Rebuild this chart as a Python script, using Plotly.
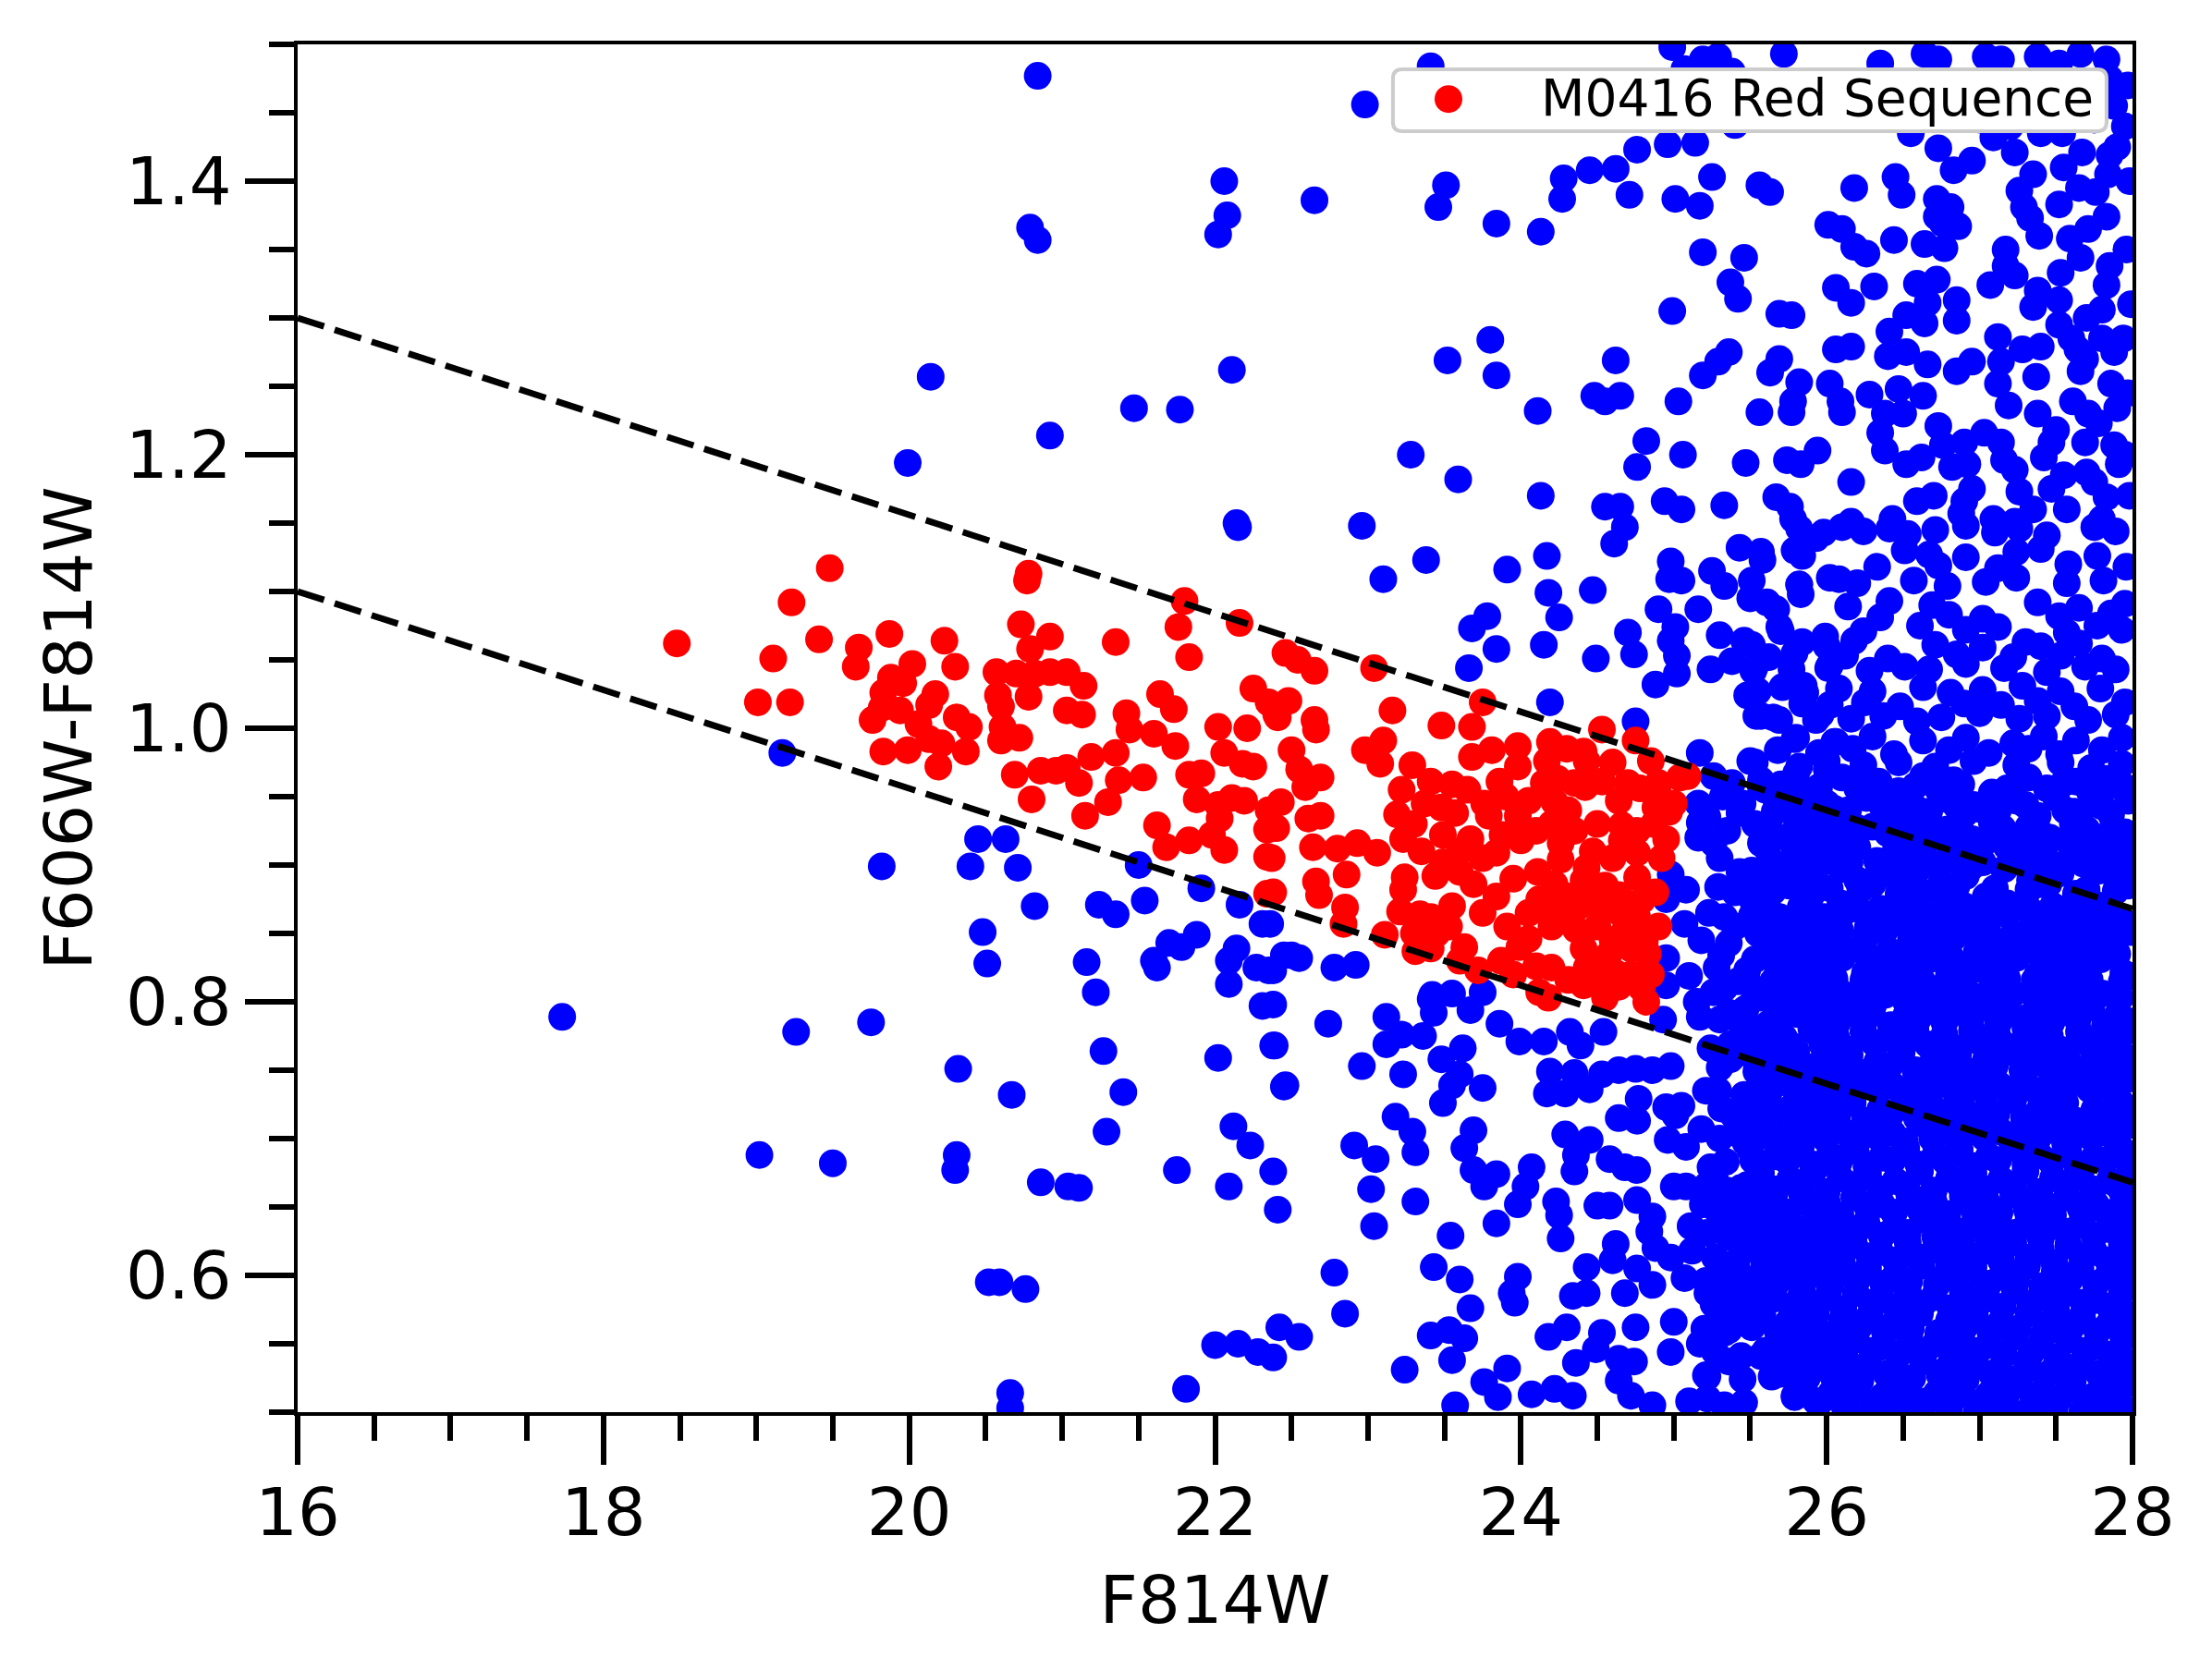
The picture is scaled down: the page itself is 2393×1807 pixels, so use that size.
import plotly.graph_objects as go

FONT = "DejaVu Sans"

# F814W magnitude vs F606W-F814W colour
red_seq = [
    (18.48, 1.062), (19.48, 1.117), (19.23, 1.092), (19.41, 1.065), (19.11, 1.051), (19.67, 1.059), (19.65, 1.045),
    (19.87, 1.069), (20.23, 1.064), (20.02, 1.047), (19.88, 1.037), (19.96, 1.033), (19.83, 1.026), (20.17, 1.025),
    (19.01, 1.019), (19.22, 1.019), (19.82, 1.015), (19.94, 1.013), (19.76, 1.006), (20.06, 1.003), (20.13, 1.017),
    (20.31, 1.008), (20.39, 1.001), (19.83, 0.983), (19.99, 0.984), (20.13, 0.992), (20.21, 0.989), (20.19, 0.972),
    (20.37, 0.983), (20.30, 1.045), (20.78, 1.113), (20.77, 1.108), (20.73, 1.076), (20.92, 1.067), (20.79, 1.058),
    (20.57, 1.041), (20.70, 1.040), (20.82, 1.040), (20.92, 1.041), (21.03, 1.041), (21.14, 1.031), (20.58, 1.024),
    (20.78, 1.023), (20.60, 1.016), (20.61, 1.001), (20.72, 0.993), (20.60, 0.991), (21.03, 1.013), (21.13, 1.010),
    (21.35, 1.063), (21.76, 1.074), (21.80, 1.093), (21.83, 1.052), (22.16, 1.077), (21.64, 1.025), (21.73, 1.014),
    (21.42, 1.011), (21.44, 0.999), (21.60, 0.996), (21.74, 0.987), (21.19, 0.979), (21.35, 0.982), (20.69, 0.966),
    (20.86, 0.969), (20.96, 0.969), (21.03, 0.971), (21.11, 0.960), (20.80, 0.948), (21.37, 0.962), (21.30, 0.946),
    (21.15, 0.936), (21.53, 0.964), (21.83, 0.966), (21.91, 0.967), (21.88, 0.948), (22.02, 0.944), (22.11, 0.949),
    (22.19, 0.947), (22.02, 1.001), (22.21, 1.000), (22.25, 1.029), (22.35, 1.019), (22.41, 1.008), (22.06, 0.982),
    (22.25, 0.972), (22.18, 0.974), (22.35, 0.940), (22.34, 0.926), (22.34, 0.906), (22.34, 0.879), (21.62, 0.929),
    (21.68, 0.913), (21.83, 0.918), (21.98, 0.922), (22.06, 0.911), (22.03, 0.934),
    (22.46, 1.055), (22.54, 1.050), (22.65, 1.042), (23.04, 1.044), (22.48, 1.020), (22.40, 1.010), (22.65, 1.006),
    (22.66, 0.999), (23.16, 1.013), (23.75, 1.019), (23.48, 1.002), (23.68, 1.001), (22.50, 0.984), (22.55, 0.970),
    (22.69, 0.964), (22.59, 0.957), (22.43, 0.946), (22.98, 0.984), (23.10, 0.991), (23.08, 0.974), (23.29, 0.973),
    (22.69, 0.936), (22.61, 0.934), (22.40, 0.927), (22.64, 0.913), (22.80, 0.912), (22.93, 0.916), (23.06, 0.909),
    (22.37, 0.905), (22.86, 0.893), (22.66, 0.888), (22.68, 0.878), (22.85, 0.869), (22.84, 0.857), (22.38, 0.880),
    (23.22, 0.955), (23.19, 0.937), (23.23, 0.919), (23.24, 0.891), (23.23, 0.882), (23.21, 0.866), (23.11, 0.849),
    (23.34, 0.864), (23.41, 0.862), (23.53, 0.855), (23.31, 0.837), (23.41, 0.839), (23.63, 0.840), (23.41, 0.961),
    (23.55, 0.959), (23.48, 0.942), (23.57, 0.938), (23.49, 0.922), (23.67, 0.919), (23.49, 0.902), (23.44, 0.892),
    (23.60, 0.895), (23.69, 0.886), (23.84, 0.877), (23.72, 0.823), (23.87, 0.830), (23.91, 0.855), (24.05, 0.846),
    (24.10, 0.826), (24.12, 0.807), (23.68, 0.979), (23.81, 0.984), (23.98, 0.987), (23.98, 0.972), (23.86, 0.961),
    (23.76, 0.945), (23.79, 0.936), (24.05, 0.947), (23.98, 0.936), (24.10, 0.925), (23.88, 0.922), (23.84, 0.909),
    (24.00, 0.918), (24.19, 0.990), (24.17, 0.976), (24.30, 0.985), (24.41, 0.983), (24.53, 0.999), (24.43, 0.976),
    (24.24, 0.963), (24.42, 0.957), (24.53, 0.961), (24.22, 0.946), (24.31, 0.940), (24.26, 0.916), (24.26, 0.904),
    (24.11, 0.895), (24.12, 0.875), (24.17, 0.868), (24.43, 0.898), (24.41, 0.889), (24.22, 0.886), (24.31, 0.877),
    (24.45, 0.873), (24.53, 0.866), (24.26, 0.859), (24.36, 0.853), (24.50, 0.855), (24.41, 0.839), (24.57, 0.834),
    (24.43, 0.825), (24.31, 0.816), (24.41, 0.812), (24.62, 0.821), (24.64, 0.811), (24.79, 0.810), (24.75, 0.991),
    (24.85, 0.976), (25.04, 0.964), (24.91, 0.949), (24.78, 0.956), (24.64, 0.947), (24.88, 0.942), (24.66, 0.929),
    (24.66, 0.918), (24.76, 0.925), (24.95, 0.919), (24.76, 0.909), (24.76, 0.891), (24.64, 0.878), (24.79, 0.874),
    (24.76, 0.862), (24.81, 0.844), (24.83, 0.835), (24.72, 0.839), (24.67, 0.850), (25.09, 0.965), (24.97, 0.939),
    (24.18, 0.803), (24.82, 0.800), (24.55, 0.803),
    (24.20, 0.930), (24.35, 0.925), (24.50, 0.930), (24.60, 0.905), (24.47, 0.910), (24.55, 0.885), (24.65, 0.865),
    (24.38, 0.870), (24.20, 0.855), (24.05, 0.865), (23.95, 0.890), (23.75, 0.905), (23.60, 0.910), (23.35, 0.910),
    (23.30, 0.930), (23.37, 0.945), (23.65, 0.955), (23.90, 0.950), (24.15, 0.960), (24.35, 0.960), (24.60, 0.975),
    (24.70, 0.960), (24.90, 0.960), (24.87, 0.930), (24.92, 0.905), (24.88, 0.880), (24.90, 0.855), (24.85, 0.820),
    (24.50, 0.820), (24.20, 0.825), (23.95, 0.820), (23.60, 0.830), (23.45, 0.850), (23.30, 0.850), (23.55, 0.870),
    (23.75, 0.865), (23.99, 0.840), (24.60, 0.845), (24.72, 0.820), (25.00, 0.945),
]

# sparse field galaxies (bright end and the region below / above the red sequence)
blue_field = [
    (17.73, 0.789), (19.17, 0.982), (19.82, 0.899), (19.99, 1.194), (19.26, 0.778), (19.75, 0.785), (20.32, 0.751),
    (20.67, 0.732), (19.02, 0.688), (19.50, 0.682), (20.31, 0.688), (20.30, 0.677), (20.86, 0.668), (21.04, 0.665),
    (21.11, 0.664), (20.52, 0.595), (20.59, 0.595), (20.76, 0.590), (20.66, 0.514), (20.66, 0.503),
    (22.15, 1.147), (20.45, 0.919), (20.63, 0.919), (20.40, 0.899), (20.71, 0.898), (20.82, 0.870), (20.48, 0.851),
    (20.51, 0.828), (21.16, 0.829), (21.22, 0.807), (21.24, 0.871), (21.35, 0.864), (21.50, 0.900), (21.54, 0.874),
    (21.91, 0.883), (22.16, 0.871), (22.31, 0.857), (21.70, 0.843), (21.78, 0.840), (21.88, 0.849), (21.60, 0.830),
    (21.62, 0.825), (22.14, 0.839), (22.09, 0.830), (22.27, 0.825), (22.35, 0.823), (22.09, 0.813), (22.45, 0.834),
    (21.27, 0.764), (21.40, 0.734), (21.29, 0.705), (22.02, 0.759), (22.39, 0.768), (22.45, 0.738), (22.31, 0.797),
    (21.75, 0.677), (22.12, 0.709), (22.23, 0.695), (22.09, 0.665), (22.38, 0.676), (22.41, 0.648), (22.00, 0.549),
    (22.15, 0.550), (22.28, 0.544), (22.38, 0.540), (22.42, 0.562), (21.81, 0.517),
    (20.84, 1.477), (22.98, 1.456), (23.41, 1.484), (22.06, 1.400), (22.65, 1.386), (22.08, 1.375), (22.02, 1.361),
    (20.79, 1.366), (20.84, 1.357), (23.51, 1.397), (23.46, 1.381), (23.84, 1.369), (24.13, 1.363), (24.28, 1.402),
    (24.27, 1.387), (20.14, 1.257), (22.11, 1.262), (21.47, 1.234), (21.77, 1.233), (20.92, 1.214), (23.80, 1.284),
    (23.52, 1.269), (23.84, 1.258), (24.11, 1.232), (23.28, 1.200), (23.59, 1.182), (24.13, 1.170), (22.14, 1.150),
    (22.96, 1.148),
    (23.38, 1.123), (23.10, 1.109), (23.91, 1.116), (24.17, 1.126), (24.18, 1.099), (24.25, 1.081), (24.15, 1.061),
    (24.47, 1.101), (24.49, 1.051), (23.78, 1.082), (23.68, 1.073), (23.84, 1.058), (23.66, 1.044), (24.19, 1.019),
    (24.75, 1.005), (24.61, 1.135), (24.68, 1.147), (24.98, 1.122), (24.97, 1.109), (25.05, 1.108), (24.90, 1.087),
    (24.70, 1.070), (24.74, 1.054), (25.01, 1.074), (25.16, 1.087), (24.98, 1.064), (25.02, 1.053), (25.02, 1.040),
    (24.88, 1.032), (25.25, 1.115), (25.33, 1.104), (25.43, 1.132), (25.58, 1.123), (25.50, 1.095), (25.67, 1.087),
    (25.70, 1.071), (25.30, 1.068), (25.46, 1.064), (25.24, 1.043), (25.38, 1.049), (25.52, 1.042), (25.48, 1.024),
    (25.54, 1.009), (25.65, 1.008), (25.77, 1.033), (25.85, 1.031), (25.79, 1.130), (25.82, 1.105), (25.83, 1.098),
    (25.79, 1.055), (25.99, 1.067), (26.01, 1.044), (26.02, 1.110), (25.93, 1.139), (25.79, 0.992), (25.93, 1.006),
    (26.05, 0.990), (25.17, 0.982), (25.26, 0.965), (25.50, 0.976), (25.57, 0.957), (25.80, 0.967), (26.00, 0.970),
    (25.43, 0.938), (25.67, 0.940), (25.86, 0.947), (25.93, 0.936), (25.16, 0.945), (25.17, 0.931), (25.16, 0.920),
    (25.26, 0.916), (25.57, 0.916), (25.79, 0.911), (25.93, 0.907), (26.06, 0.922), (24.98, 0.893), (25.08, 0.882),
    (25.29, 0.884), (25.43, 0.895), (25.62, 0.893), (25.71, 0.900), (24.95, 0.875), (25.07, 0.857), (25.33, 0.862),
    (25.52, 0.873), (25.69, 0.862), (25.88, 0.875), (25.98, 0.862), (25.86, 0.850), (24.95, 0.832), (24.95, 0.812),
    (25.10, 0.819), (25.31, 0.834), (25.48, 0.823), (25.64, 0.837), (25.76, 0.823), (25.88, 0.834), (26.00, 0.843),
    (26.05, 0.816), (25.26, 0.807), (25.52, 0.810), (25.69, 0.807), (25.88, 0.812), (25.36, 0.843), (25.55, 0.850),
    (22.50, 0.834), (22.55, 0.832), (22.78, 0.825), (22.92, 0.827), (22.38, 0.823), (22.36, 0.857), (23.42, 0.805),
    (23.55, 0.806), (23.75, 0.807),
    (25.22, 0.935), (25.35, 0.925), (25.30, 0.905), (25.40, 0.880), (25.23, 0.865), (25.40, 0.855), (25.18, 0.845),
    (25.28, 0.825), (25.42, 0.815), (25.15, 0.800), (25.36, 0.792), (25.32, 0.950), (25.45, 0.945), (25.38, 0.960),
]

# faint galaxies below the red sequence (F606W-F814W < 0.8)
blue_faint = [
    (22.38, 0.798), (22.74, 0.784), (22.38, 0.768), (22.46, 0.739), (22.96, 0.753), (23.12, 0.789), (23.41, 0.802),
    (23.43, 0.792), (23.67, 0.794), (23.86, 0.784), (23.22, 0.776), (23.36, 0.775), (23.12, 0.769), (23.99, 0.771),
    (24.15, 0.771), (24.32, 0.778), (24.39, 0.768), (24.54, 0.778), (24.93, 0.787), (25.17, 0.789), (25.24, 0.766),
    (25.37, 0.758), (25.62, 0.745), (25.93, 0.753), (25.33, 0.810), (25.57, 0.803), (25.45, 0.778), (25.69, 0.789),
    (25.93, 0.778), (26.05, 0.796), (23.48, 0.758), (23.62, 0.766), (23.60, 0.747), (23.55, 0.739), (23.49, 0.726),
    (23.23, 0.747), (23.75, 0.737), (24.19, 0.749), (24.35, 0.748), (24.17, 0.733), (24.29, 0.733), (24.45, 0.736),
    (24.53, 0.747), (24.64, 0.750), (24.75, 0.751), (24.86, 0.750), (24.98, 0.753), (24.64, 0.715), (24.76, 0.713),
    (24.77, 0.729), (24.95, 0.723), (25.05, 0.724), (25.21, 0.735), (25.31, 0.722), (25.01, 0.717), (24.96, 0.699),
    (25.08, 0.694), (25.18, 0.707), (25.43, 0.703), (25.57, 0.723), (25.76, 0.722), (25.86, 0.717), (26.02, 0.704),
    (25.71, 0.699), (25.52, 0.684), (25.74, 0.684), (25.93, 0.679), (25.44, 0.664), (25.66, 0.660), (25.82, 0.665),
    (25.24, 0.679), (25.27, 0.670), (23.18, 0.716), (23.29, 0.705), (23.31, 0.690), (22.91, 0.695), (23.05, 0.685),
    (23.69, 0.706), (23.63, 0.693), (23.69, 0.677), (23.84, 0.674), (23.76, 0.665), (24.07, 0.679), (24.03, 0.665),
    (23.98, 0.652), (24.29, 0.703), (24.45, 0.699), (24.36, 0.688), (24.35, 0.676), (24.58, 0.685), (24.68, 0.679),
    (24.76, 0.677), (23.02, 0.663), (23.31, 0.654), (23.04, 0.636), (23.54, 0.629), (23.84, 0.638), (24.23, 0.654),
    (24.25, 0.644), (24.26, 0.627), (24.50, 0.651), (24.58, 0.651), (24.76, 0.655), (24.86, 0.643), (24.84, 0.632),
    (25.00, 0.665), (25.08, 0.665), (25.19, 0.652), (25.11, 0.636), (25.30, 0.636), (25.52, 0.645), (25.71, 0.643),
    (25.90, 0.636), (24.62, 0.623), (24.60, 0.611), (24.43, 0.606), (24.88, 0.620), (24.98, 0.613), (25.12, 0.618),
    (24.76, 0.605), (24.86, 0.593), (24.68, 0.587), (25.07, 0.598), (25.22, 0.587), (25.33, 0.607), (25.54, 0.621),
    (25.71, 0.607), (25.79, 0.625), (25.45, 0.589), (25.64, 0.587), (25.83, 0.584), (26.00, 0.598), (23.43, 0.606),
    (23.60, 0.597), (23.67, 0.576), (23.98, 0.599), (23.94, 0.587), (23.96, 0.580), (24.43, 0.587), (24.34, 0.585),
    (24.75, 0.562), (25.00, 0.566), (24.98, 0.544), (25.17, 0.550), (25.36, 0.560), (25.52, 0.564), (25.76, 0.562),
    (25.98, 0.555), (25.57, 0.541), (25.36, 0.537), (25.74, 0.537), (26.00, 0.537), (22.78, 0.602), (22.85, 0.572),
    (22.55, 0.555), (23.41, 0.556), (23.53, 0.560), (23.63, 0.554), (23.55, 0.538), (23.24, 0.531), (24.18, 0.555),
    (24.30, 0.562), (24.53, 0.558), (24.36, 0.536), (24.49, 0.546), (24.64, 0.539), (24.74, 0.537), (24.64, 0.523),
    (24.72, 0.512), (23.91, 0.532), (23.76, 0.522), (23.85, 0.511), (23.57, 0.505), (24.07, 0.513), (24.22, 0.517),
    (24.34, 0.512), (25.22, 0.526), (25.10, 0.508), (25.33, 0.505), (25.64, 0.526), (25.79, 0.512), (25.93, 0.508),
    (26.07, 0.523), (24.86, 0.505), (25.31, 0.575), (25.86, 0.575),
]

# faint, red-ish field galaxies above the sequence (F606W-F814W > 1.15)
blue_upper = [
    (24.99, 1.498), (25.19, 1.489), (25.29, 1.491), (25.07, 1.482), (25.38, 1.480), (25.72, 1.493), (26.35, 1.486),
    (26.64, 1.493), (26.73, 1.489), (27.04, 1.491), (27.14, 1.489), (27.38, 1.491), (27.52, 1.486), (27.66, 1.493),
    (27.83, 1.489), (27.85, 1.475), (27.88, 1.455), (27.84, 1.466), (25.40, 1.441), (24.76, 1.423), (24.96, 1.427),
    (25.14, 1.428), (24.45, 1.408), (24.62, 1.409), (24.71, 1.390), (25.01, 1.387), (25.17, 1.382), (25.25, 1.403),
    (25.56, 1.397), (25.63, 1.392), (26.18, 1.395), (26.45, 1.403), (26.49, 1.390), (26.55, 1.435), (26.73, 1.424),
    (26.95, 1.415), (26.83, 1.408), (26.72, 1.387), (26.81, 1.381), (26.72, 1.374), (26.86, 1.367), (27.09, 1.432),
    (27.23, 1.421), (27.35, 1.405), (27.26, 1.393), (27.29, 1.381), (27.33, 1.373), (27.39, 1.360), (27.54, 1.435),
    (27.67, 1.421), (27.52, 1.383), (27.76, 1.392), (27.85, 1.419), (27.84, 1.405), (27.59, 1.358), (27.71, 1.365),
    (27.83, 1.374), (27.66, 1.344), (27.53, 1.333), (27.85, 1.338), (27.83, 1.324), (27.80, 1.306), (27.52, 1.313),
    (27.35, 1.308), (27.38, 1.320), (27.52, 1.295), (27.17, 1.350), (27.17, 1.338), (27.23, 1.331), (27.07, 1.324),
    (26.01, 1.368), (26.10, 1.365), (26.18, 1.352), (26.26, 1.347), (26.44, 1.357), (26.64, 1.354), (26.77, 1.351),
    (26.76, 1.369), (25.19, 1.348), (25.46, 1.344), (25.37, 1.326), (25.42, 1.314), (24.99, 1.305), (26.06, 1.322),
    (26.16, 1.311), (26.31, 1.323), (26.59, 1.325), (26.72, 1.328), (26.85, 1.313), (26.85, 1.298), (26.66, 1.311),
    (26.64, 1.296), (26.52, 1.302), (26.41, 1.290), (26.52, 1.275), (26.40, 1.272), (26.66, 1.266), (26.85, 1.261),
    (26.95, 1.268), (27.12, 1.286), (27.14, 1.268), (27.12, 1.252), (27.28, 1.277), (27.40, 1.279), (27.37, 1.257),
    (27.64, 1.277), (27.69, 1.270), (27.66, 1.261), (27.88, 1.275), (27.86, 1.252), (25.69, 1.303), (25.77, 1.302),
    (25.36, 1.275), (25.29, 1.268), (25.19, 1.258), (25.69, 1.270), (25.63, 1.260), (25.82, 1.253), (26.02, 1.252),
    (26.16, 1.279), (26.06, 1.277), (24.62, 1.269), (24.48, 1.243), (24.65, 1.243), (24.55, 1.239), (25.03, 1.239),
    (25.56, 1.231), (25.78, 1.239), (25.77, 1.231), (26.09, 1.239), (26.10, 1.231), (26.28, 1.244), (26.47, 1.248),
    (26.63, 1.243), (26.38, 1.230), (26.50, 1.230), (26.35, 1.216), (26.38, 1.203), (26.52, 1.193), (26.62, 1.198),
    (26.73, 1.221), (26.76, 1.207), (26.82, 1.191), (26.92, 1.193), (26.90, 1.209), (27.03, 1.216), (27.14, 1.209),
    (27.16, 1.196), (27.23, 1.189), (27.26, 1.173), (27.19, 1.236), (27.38, 1.230), (27.50, 1.218), (27.47, 1.209),
    (27.42, 1.198), (27.61, 1.239), (27.71, 1.230), (27.78, 1.223), (27.69, 1.209), (27.70, 1.187), (27.47, 1.175),
    (27.57, 1.160), (27.83, 1.169), (27.91, 1.193), (27.88, 1.207), (27.90, 1.234), (24.82, 1.210), (24.76, 1.191),
    (25.06, 1.200), (25.47, 1.194), (25.74, 1.196), (25.83, 1.193), (25.94, 1.203), (26.16, 1.180), (24.55, 1.162),
    (24.65, 1.162), (24.94, 1.166), (25.05, 1.160), (25.33, 1.163), (25.67, 1.169), (25.76, 1.162), (25.78, 1.153),
    (26.16, 1.151), (26.43, 1.153), (26.59, 1.166), (26.90, 1.166), (26.88, 1.157), (27.09, 1.153), (27.23, 1.151),
    (27.80, 1.153), (27.97, 1.470), (27.95, 1.440), (27.98, 1.400), (27.96, 1.350), (27.99, 1.310), (27.94, 1.285),
    (27.97, 1.245), (27.95, 1.200), (27.98, 1.170),
    (26.95, 1.470), (27.10, 1.460), (27.30, 1.470), (27.45, 1.455), (27.60, 1.465), (27.75, 1.445), (26.80, 1.455),
    (27.20, 1.440), (27.55, 1.410), (27.65, 1.395), (26.50, 1.470), (27.00, 1.445), (27.40, 1.435), (27.90, 1.425),
    (27.70, 1.300), (27.60, 1.285), (27.80, 1.285), (27.75, 1.180), (27.55, 1.185), (27.35, 1.160), (26.95, 1.175),
    (26.70, 1.170),
]

# dense faint population, 0.80 < F606W-F814W < 1.15
blue_dense_mid = [
    (25.82, 1.146), (25.98, 1.143), (26.10, 1.147), (26.24, 1.144), (26.41, 1.146), (26.53, 1.142), (26.71, 1.145),
    (26.91, 1.148), (27.10, 1.143), (27.26, 1.146), (27.44, 1.141), (27.75, 1.147), (27.89, 1.144),
    (25.57, 1.129), (25.84, 1.126), (26.51, 1.130), (26.67, 1.127), (26.91, 1.125), (27.24, 1.129), (27.40, 1.131),
    (27.77, 1.126), (25.51, 1.108), (25.82, 1.105), (26.08, 1.109), (26.20, 1.106), (26.57, 1.108), (26.79, 1.104),
    (27.04, 1.107), (27.24, 1.110), (27.57, 1.106), (27.81, 1.108), (25.61, 1.092), (26.14, 1.089), (26.41, 1.093),
    (26.69, 1.090), (27.38, 1.092), (27.65, 1.088), (27.95, 1.091), (25.69, 1.074), (26.24, 1.071), (26.61, 1.075),
    (26.91, 1.072), (27.12, 1.074), (27.57, 1.070), (27.77, 1.075), (27.93, 1.072), (25.51, 1.061), (25.84, 1.063),
    (26.00, 1.060), (26.18, 1.064), (26.71, 1.061), (27.02, 1.059), (27.30, 1.063), (27.40, 1.060), (27.65, 1.062),
    (25.53, 1.045), (25.77, 1.043), (26.02, 1.046), (26.28, 1.042), (26.51, 1.045), (26.67, 1.043), (26.91, 1.047),
    (27.16, 1.044), (27.44, 1.041), (27.69, 1.045), (27.89, 1.043), (25.55, 1.027), (25.71, 1.030), (25.86, 1.026),
    (26.08, 1.029), (26.30, 1.027), (26.63, 1.030), (26.81, 1.026), (27.02, 1.028), (27.28, 1.031), (27.53, 1.027),
    (27.79, 1.029), (25.57, 1.009), (25.69, 1.006), (25.96, 1.010), (26.16, 1.007), (26.37, 1.009), (26.59, 1.005),
    (26.75, 1.008), (27.00, 1.011), (27.26, 1.007), (27.44, 1.009), (27.71, 1.006), (27.89, 1.010), (25.80, 0.993),
    (26.06, 0.990), (26.30, 0.994), (26.63, 0.991), (26.91, 0.993), (27.22, 0.989), (27.42, 0.994), (27.63, 0.991),
    (27.93, 0.993), (25.53, 0.975), (25.82, 0.972), (26.00, 0.976), (26.24, 0.973), (26.47, 0.975), (26.71, 0.972),
    (26.96, 0.976), (27.24, 0.973), (27.53, 0.975), (27.73, 0.971), (27.93, 0.974), (25.57, 0.962), (26.10, 0.964),
    (26.34, 0.961), (26.63, 0.965), (26.83, 0.962), (27.32, 0.964), (27.63, 0.961), (27.83, 0.963), (25.67, 0.948),
    (26.00, 0.945), (26.26, 0.949), (26.55, 0.946), (26.79, 0.948), (26.96, 0.944), (27.24, 0.947), (27.50, 0.949),
    (27.73, 0.945), (27.97, 0.947), (25.53, 0.930), (25.80, 0.927), (26.06, 0.931), (26.30, 0.928), (26.51, 0.930),
    (26.79, 0.926), (27.08, 0.931), (27.32, 0.928), (27.61, 0.930), (27.87, 0.927), (25.67, 0.921), (26.18, 0.920),
    (26.65, 0.922), (26.95, 0.919), (27.20, 0.921), (27.46, 0.920), (27.74, 0.918), (25.61, 0.912), (25.96, 0.909),
    (26.20, 0.913), (26.45, 0.910), (26.63, 0.912), (26.87, 0.908), (27.18, 0.913), (27.42, 0.910), (27.73, 0.912),
    (27.95, 0.909), (25.78, 0.904), (26.33, 0.903), (27.02, 0.902), (27.58, 0.903), (25.51, 0.896), (25.73, 0.893),
    (26.10, 0.897), (26.34, 0.894), (26.59, 0.896), (26.91, 0.892), (27.16, 0.897), (27.53, 0.894), (27.79, 0.896),
    (25.92, 0.890), (26.47, 0.888), (26.75, 0.887), (27.33, 0.889), (27.93, 0.886), (25.65, 0.881), (25.90, 0.878),
    (26.22, 0.882), (26.47, 0.879), (26.75, 0.881), (27.04, 0.877), (27.32, 0.882), (27.63, 0.879), (27.89, 0.881),
    (26.09, 0.872), (26.61, 0.871), (26.90, 0.870), (27.18, 0.872), (27.48, 0.870), (27.76, 0.871), (25.51, 0.863),
    (25.75, 0.860), (26.10, 0.864), (26.41, 0.861), (26.67, 0.863), (26.91, 0.859), (27.18, 0.864), (27.48, 0.861),
    (27.73, 0.863), (27.93, 0.860), (25.93, 0.856), (26.27, 0.855), (26.54, 0.854), (27.05, 0.853), (27.34, 0.855),
    (27.61, 0.853), (25.61, 0.847), (25.96, 0.844), (26.26, 0.848), (26.55, 0.845), (26.83, 0.847), (27.12, 0.843),
    (27.40, 0.848), (27.65, 0.845), (27.89, 0.847), (25.78, 0.838), (26.12, 0.839), (26.41, 0.837), (26.70, 0.838),
    (26.98, 0.836), (27.26, 0.839), (27.53, 0.837), (27.78, 0.838), (25.53, 0.831), (25.80, 0.828), (26.10, 0.832),
    (26.39, 0.829), (26.67, 0.831), (26.91, 0.827), (27.24, 0.832), (27.53, 0.829), (27.79, 0.831), (25.95, 0.822),
    (26.25, 0.821), (26.53, 0.823), (26.80, 0.821), (27.08, 0.822), (27.38, 0.820), (27.66, 0.822), (27.94, 0.821),
    (25.65, 0.815), (25.94, 0.812), (26.24, 0.816), (26.51, 0.813), (26.79, 0.815), (27.08, 0.811), (27.36, 0.816),
    (27.65, 0.813), (27.93, 0.815), (26.10, 0.806), (26.38, 0.805), (26.66, 0.807), (26.94, 0.805), (27.22, 0.806),
    (27.50, 0.805), (27.80, 0.806),
    (25.66, 0.939), (25.92, 0.937), (26.14, 0.940), (26.42, 0.936), (26.67, 0.939), (26.90, 0.937), (27.12, 0.940),
    (27.38, 0.936), (27.62, 0.939), (27.86, 0.937), (25.60, 0.955), (25.84, 0.953), (26.20, 0.956), (26.47, 0.954),
    (26.73, 0.955), (27.08, 0.953), (27.44, 0.956), (27.72, 0.954), (27.95, 0.957), (25.68, 0.984), (25.95, 0.982),
    (26.17, 0.985), (26.44, 0.981), (26.80, 0.984), (27.06, 0.982), (27.32, 0.985), (27.52, 0.981), (27.80, 0.984),
    (25.84, 1.018), (26.02, 1.017), (26.25, 1.019), (26.48, 1.016), (26.90, 1.018), (27.14, 1.017), (27.38, 1.020),
    (27.62, 1.016), (27.95, 1.019), (25.62, 1.052), (26.12, 1.053), (26.40, 1.051), (26.85, 1.054), (27.22, 1.052),
    (27.53, 1.053), (27.80, 1.051), (26.35, 1.081), (26.80, 1.083), (27.02, 1.080), (27.52, 1.082), (27.86, 1.084),
    (26.33, 1.118), (26.73, 1.119), (27.12, 1.117), (27.58, 1.120), (27.96, 1.118), (25.55, 0.888), (25.80, 0.886),
    (26.20, 0.889), (27.45, 0.886), (26.00, 0.903), (26.55, 0.905), (26.80, 0.904), (27.30, 0.904), (27.85, 0.903),
    (25.58, 0.870), (25.83, 0.869), (26.35, 0.868), (27.62, 0.869), (25.78, 0.853), (26.09, 0.852), (26.78, 0.852),
    (27.80, 0.852), (25.68, 0.822), (26.40, 0.820), (26.95, 0.823), (27.52, 0.821), (25.83, 0.806), (25.53, 0.806),
]

# more of the crowded part between the selection limits
blue_mid_fill = [
    (25.70, 0.959), (25.95, 0.957), (26.30, 0.960), (26.58, 0.958), (26.88, 0.959), (27.18, 0.956), (27.55, 0.960),
    (27.85, 0.958), (25.78, 0.943), (26.05, 0.941), (26.36, 0.944), (26.60, 0.940), (26.85, 0.943), (27.00, 0.941),
    (27.30, 0.944), (27.56, 0.940), (27.80, 0.943), (25.60, 0.926), (25.93, 0.924), (26.20, 0.927), (26.40, 0.923),
    (26.70, 0.926), (26.88, 0.924), (27.15, 0.927), (27.40, 0.923), (27.70, 0.926), (27.95, 0.924), (25.85, 0.918),
    (26.05, 0.916), (26.55, 0.917), (26.80, 0.915), (27.05, 0.918), (27.30, 0.916), (27.58, 0.917), (27.85, 0.915),
    (25.65, 0.901), (25.88, 0.899), (26.15, 0.902), (26.42, 0.898), (26.68, 0.901), (26.95, 0.899), (27.22, 0.902),
    (27.45, 0.898), (27.68, 0.901), (27.92, 0.899), (25.75, 0.885), (26.02, 0.883), (26.30, 0.886), (26.60, 0.882),
    (26.85, 0.885), (27.10, 0.883), (27.40, 0.886), (27.70, 0.882), (27.97, 0.885), (25.62, 0.867), (25.88, 0.865),
    (26.20, 0.868), (26.50, 0.864), (26.78, 0.867), (27.05, 0.865), (27.32, 0.868), (27.60, 0.864), (27.85, 0.867),
    (25.70, 0.851), (26.00, 0.849), (26.38, 0.852), (26.66, 0.848), (26.95, 0.851), (27.22, 0.849), (27.50, 0.852),
    (27.75, 0.848), (27.98, 0.851), (25.66, 0.835), (25.95, 0.833), (26.25, 0.836), (26.53, 0.832), (26.80, 0.835),
    (27.10, 0.833), (27.38, 0.836), (27.66, 0.832), (27.90, 0.835), (25.75, 0.819), (26.05, 0.817), (26.35, 0.820),
    (26.62, 0.816), (26.90, 0.819), (27.18, 0.817), (27.45, 0.820), (27.72, 0.816), (27.98, 0.819), (25.70, 0.803),
    (25.98, 0.801), (26.25, 0.804), (26.52, 0.800), (26.80, 0.803), (27.08, 0.801), (27.36, 0.804), (27.63, 0.800),
    (27.92, 0.803),
]

# dense faint population, F606W-F814W < 0.80
blue_dense_low = [
    (25.47, 0.795), (25.81, 0.791), (25.97, 0.797), (26.16, 0.792), (26.30, 0.796), (26.52, 0.790), (26.66, 0.797),
    (26.85, 0.793), (27.03, 0.796), (27.18, 0.791), (27.39, 0.797), (27.52, 0.792), (27.73, 0.796), (27.90, 0.790),
    (25.54, 0.779), (25.72, 0.774), (25.90, 0.780), (26.06, 0.775), (26.24, 0.778), (26.41, 0.773), (26.58, 0.780),
    (26.77, 0.776), (26.95, 0.779), (27.12, 0.774), (27.30, 0.780), (27.46, 0.775), (27.65, 0.778), (27.82, 0.773),
    (27.98, 0.779), (25.49, 0.762), (25.66, 0.757), (25.80, 0.763), (26.00, 0.758), (26.15, 0.761), (26.33, 0.756),
    (26.49, 0.763), (26.70, 0.758), (26.86, 0.762), (27.04, 0.757), (27.21, 0.763), (27.38, 0.758), (27.57, 0.761),
    (27.74, 0.756), (27.93, 0.762), (25.57, 0.744), (25.77, 0.739), (25.93, 0.745), (26.09, 0.740), (26.26, 0.743),
    (26.44, 0.738), (26.61, 0.745), (26.79, 0.740), (26.96, 0.744), (27.13, 0.739), (27.29, 0.745), (27.48, 0.740),
    (27.66, 0.743), (27.84, 0.738), (27.99, 0.744), (25.48, 0.727), (25.65, 0.722), (25.84, 0.728), (26.01, 0.723),
    (26.17, 0.726), (26.35, 0.721), (26.53, 0.728), (26.69, 0.723), (26.88, 0.727), (27.05, 0.722), (27.22, 0.728),
    (27.40, 0.723), (27.56, 0.726), (27.75, 0.721), (27.92, 0.727), (25.58, 0.710), (25.75, 0.705), (25.92, 0.711),
    (26.10, 0.706), (26.27, 0.709), (26.43, 0.704), (26.62, 0.711), (26.78, 0.706), (26.97, 0.710), (27.14, 0.705),
    (27.31, 0.711), (27.49, 0.706), (27.67, 0.709), (27.83, 0.704), (27.99, 0.710), (25.50, 0.692), (25.67, 0.687),
    (25.83, 0.693), (26.02, 0.688), (26.19, 0.691), (26.36, 0.686), (26.52, 0.693), (26.71, 0.688), (26.87, 0.692),
    (27.06, 0.687), (27.23, 0.693), (27.39, 0.688), (27.58, 0.691), (27.75, 0.686), (27.93, 0.692), (25.57, 0.675),
    (25.76, 0.670), (25.91, 0.676), (26.09, 0.671), (26.27, 0.674), (26.45, 0.669), (26.61, 0.676), (26.80, 0.671),
    (26.96, 0.675), (27.14, 0.670), (27.30, 0.676), (27.48, 0.671), (27.66, 0.674), (27.85, 0.669), (27.99, 0.675),
    (25.49, 0.658), (25.66, 0.653), (25.84, 0.659), (26.00, 0.654), (26.18, 0.657), (26.36, 0.652), (26.54, 0.659),
    (26.70, 0.654), (26.89, 0.658), (27.05, 0.653), (27.22, 0.659), (27.41, 0.654), (27.57, 0.657), (27.76, 0.652),
    (27.94, 0.658), (25.58, 0.640), (25.75, 0.635), (25.93, 0.641), (26.10, 0.636), (26.26, 0.639), (26.44, 0.634),
    (26.63, 0.641), (26.79, 0.636), (26.97, 0.640), (27.13, 0.635), (27.32, 0.641), (27.49, 0.636), (27.67, 0.639),
    (27.84, 0.634), (27.99, 0.640), (25.50, 0.623), (25.67, 0.618), (25.85, 0.624), (26.02, 0.619), (26.18, 0.622),
    (26.35, 0.617), (26.53, 0.624), (26.71, 0.619), (26.88, 0.623), (27.06, 0.618), (27.22, 0.624), (27.40, 0.619),
    (27.58, 0.622), (27.75, 0.617), (27.93, 0.623), (25.59, 0.606), (25.76, 0.601), (25.92, 0.607), (26.11, 0.602),
    (26.27, 0.605), (26.45, 0.600), (26.62, 0.607), (26.79, 0.602), (26.96, 0.606), (27.15, 0.601), (27.31, 0.607),
    (27.49, 0.602), (27.66, 0.605), (27.84, 0.600), (27.99, 0.606), (25.48, 0.588), (25.66, 0.583), (25.84, 0.589),
    (26.01, 0.584), (26.19, 0.587), (26.36, 0.582), (26.53, 0.589), (26.70, 0.584), (26.89, 0.588), (27.05, 0.583),
    (27.23, 0.589), (27.41, 0.584), (27.57, 0.587), (27.76, 0.582), (27.93, 0.588), (25.58, 0.571), (25.75, 0.566),
    (25.93, 0.572), (26.10, 0.567), (26.28, 0.570), (26.44, 0.565), (26.61, 0.572), (26.80, 0.567), (26.97, 0.571),
    (27.14, 0.566), (27.32, 0.572), (27.48, 0.567), (27.67, 0.570), (27.85, 0.565), (27.99, 0.571), (25.68, 0.549),
    (25.84, 0.555), (26.02, 0.550), (26.19, 0.553), (26.37, 0.548), (26.54, 0.555), (26.71, 0.550), (26.88, 0.554),
    (27.06, 0.549), (27.23, 0.555), (27.40, 0.550), (27.58, 0.553), (27.76, 0.548), (27.94, 0.554), (25.93, 0.537),
    (26.11, 0.532), (26.27, 0.535), (26.45, 0.530), (26.63, 0.537), (26.79, 0.532), (26.97, 0.536), (27.13, 0.531),
    (27.31, 0.537), (27.49, 0.532), (27.66, 0.535), (27.84, 0.530), (27.99, 0.536), (25.85, 0.519), (26.03, 0.514),
    (26.20, 0.517), (26.37, 0.512), (26.53, 0.519), (26.72, 0.514), (26.88, 0.518), (27.06, 0.513), (27.22, 0.519),
    (27.40, 0.514), (27.58, 0.517), (27.75, 0.512), (27.93, 0.518), (26.12, 0.503), (26.28, 0.500), (26.46, 0.504),
    (26.62, 0.501), (26.80, 0.503), (26.98, 0.500), (27.15, 0.504), (27.32, 0.501), (27.49, 0.503), (27.67, 0.500),
    (27.85, 0.504), (27.99, 0.501),
]

# the same population, sitting between the rows above
blue_dense_fill = [
    (25.30, 0.787), (25.62, 0.784), (25.90, 0.788), (26.07, 0.785), (26.25, 0.787), (26.42, 0.783), (26.60, 0.788),
    (26.77, 0.785), (26.94, 0.787), (27.12, 0.784), (27.30, 0.788), (27.47, 0.785), (27.64, 0.787), (27.82, 0.783),
    (27.97, 0.786), (25.37, 0.769), (25.45, 0.766), (25.62, 0.770), (25.79, 0.767), (25.97, 0.769), (26.14, 0.765),
    (26.31, 0.770), (26.49, 0.767), (26.66, 0.769), (26.84, 0.766), (27.01, 0.770), (27.19, 0.767), (27.36, 0.769),
    (27.53, 0.765), (27.71, 0.770), (27.88, 0.767), (25.30, 0.752), (25.54, 0.749), (25.72, 0.753), (25.89, 0.750),
    (26.07, 0.752), (26.24, 0.748), (26.41, 0.753), (26.58, 0.750), (26.76, 0.752), (26.93, 0.749), (27.10, 0.753),
    (27.28, 0.750), (27.45, 0.752), (27.62, 0.748), (27.80, 0.753), (27.96, 0.750), (25.29, 0.735), (25.46, 0.732),
    (25.63, 0.736), (25.81, 0.733), (25.98, 0.735), (26.16, 0.731), (26.33, 0.736), (26.50, 0.733), (26.68, 0.735),
    (26.85, 0.732), (27.02, 0.736), (27.20, 0.733), (27.37, 0.735), (27.55, 0.731), (27.72, 0.736), (27.89, 0.733),
    (25.39, 0.717), (25.55, 0.714), (25.73, 0.718), (25.90, 0.715), (26.07, 0.717), (26.25, 0.713), (26.42, 0.718),
    (26.59, 0.715), (26.77, 0.717), (26.94, 0.714), (27.11, 0.718), (27.29, 0.715), (27.46, 0.717), (27.63, 0.713),
    (27.81, 0.718), (27.97, 0.715), (25.30, 0.700), (25.47, 0.697), (25.64, 0.701), (25.82, 0.698), (25.99, 0.700),
    (26.17, 0.696), (26.34, 0.701), (26.51, 0.698), (26.69, 0.700), (26.86, 0.697), (27.03, 0.701), (27.21, 0.698),
    (27.38, 0.700), (27.56, 0.696), (27.73, 0.701), (27.90, 0.698), (25.34, 0.683), (25.56, 0.680), (25.74, 0.684),
    (25.91, 0.681), (26.08, 0.683), (26.26, 0.679), (26.43, 0.684), (26.60, 0.681), (26.78, 0.683), (26.95, 0.680),
    (27.12, 0.684), (27.30, 0.681), (27.47, 0.683), (27.64, 0.679), (27.82, 0.684), (27.98, 0.681), (25.21, 0.665),
    (25.35, 0.662), (25.48, 0.666), (25.65, 0.663), (25.83, 0.665), (26.00, 0.661), (26.18, 0.666), (26.35, 0.663),
    (26.52, 0.665), (26.70, 0.662), (26.87, 0.666), (27.04, 0.663), (27.22, 0.665), (27.39, 0.661), (27.57, 0.666),
    (27.74, 0.663), (27.91, 0.665), (25.28, 0.648), (25.40, 0.645), (25.57, 0.649), (25.75, 0.646), (25.92, 0.648),
    (26.09, 0.644), (26.27, 0.649), (26.44, 0.646), (26.61, 0.648), (26.79, 0.645), (26.96, 0.649), (27.13, 0.646),
    (27.31, 0.648), (27.48, 0.644), (27.66, 0.649), (27.83, 0.646), (27.99, 0.648), (25.22, 0.631), (25.36, 0.628),
    (25.49, 0.632), (25.66, 0.629), (25.84, 0.631), (26.01, 0.627), (26.19, 0.632), (26.36, 0.629), (26.53, 0.631),
    (26.71, 0.628), (26.88, 0.632), (27.05, 0.629), (27.23, 0.631), (27.40, 0.627), (27.58, 0.632), (27.75, 0.629),
    (27.92, 0.631), (25.27, 0.613), (25.41, 0.610), (25.58, 0.614), (25.76, 0.611), (25.93, 0.613), (26.10, 0.609),
    (26.28, 0.614), (26.45, 0.611), (26.62, 0.613), (26.80, 0.610), (26.97, 0.614), (27.14, 0.611), (27.32, 0.613),
    (27.49, 0.609), (27.67, 0.614), (27.84, 0.611), (27.99, 0.613), (25.21, 0.596), (25.35, 0.593), (25.50, 0.597),
    (25.67, 0.594), (25.85, 0.596), (26.02, 0.592), (26.20, 0.597), (26.37, 0.594), (26.54, 0.596), (26.72, 0.593),
    (26.89, 0.597), (27.06, 0.594), (27.24, 0.596), (27.41, 0.592), (27.59, 0.597), (27.76, 0.594), (27.93, 0.596),
    (25.26, 0.579), (25.42, 0.576), (25.59, 0.580), (25.77, 0.577), (25.94, 0.579), (26.11, 0.575), (26.29, 0.580),
    (26.46, 0.577), (26.63, 0.579), (26.81, 0.576), (26.98, 0.580), (27.15, 0.577), (27.33, 0.579), (27.50, 0.575),
    (27.68, 0.580), (27.85, 0.577), (25.20, 0.561), (25.33, 0.558), (25.51, 0.562), (25.68, 0.559), (25.86, 0.561),
    (26.03, 0.557), (26.21, 0.562), (26.38, 0.559), (26.55, 0.561), (26.73, 0.558), (26.90, 0.562), (27.07, 0.559),
    (27.25, 0.561), (27.42, 0.557), (27.60, 0.562), (27.77, 0.559), (27.94, 0.561), (25.27, 0.544), (25.44, 0.541),
    (25.60, 0.545), (25.78, 0.542), (25.95, 0.544), (26.12, 0.540), (26.30, 0.545), (26.47, 0.542), (26.64, 0.544),
    (26.82, 0.541), (26.99, 0.545), (27.16, 0.542), (27.34, 0.544), (27.51, 0.540), (27.69, 0.545), (27.86, 0.542),
    (25.21, 0.527), (25.45, 0.524), (25.70, 0.528), (25.87, 0.525), (26.04, 0.527), (26.22, 0.523), (26.39, 0.528),
    (26.56, 0.525), (26.74, 0.527), (26.91, 0.524), (27.08, 0.528), (27.26, 0.525), (27.43, 0.527), (27.61, 0.523),
    (27.78, 0.528), (27.95, 0.525), (25.22, 0.510), (25.46, 0.507), (25.79, 0.511), (25.96, 0.508), (26.13, 0.510),
    (26.31, 0.506), (26.48, 0.511), (26.65, 0.508), (26.83, 0.510), (27.00, 0.507), (27.17, 0.511), (27.35, 0.508),
    (27.52, 0.510), (27.70, 0.506), (27.87, 0.511),
]

# selection limits of the red sequence
cut_mag = [16, 28]
cut_upper = [1.30, 0.868]
cut_lower = [1.10, 0.668]

x_ticks = [16, 18, 20, 22, 24, 26, 28]
y_ticks = [0.6, 0.8, 1.0, 1.2, 1.4]
legend_label = "M0416 Red Sequence"

blue_all = (blue_field + blue_faint + blue_upper + blue_dense_mid + blue_mid_fill
            + blue_dense_low + blue_dense_fill)

fig = go.Figure()
fig.add_trace(go.Scatter(
    x=[p[0] for p in blue_all], y=[p[1] for p in blue_all], mode="markers",
    marker=dict(color="#0000ff", size=30, line=dict(width=0)),
    showlegend=False, hoverinfo="skip"))
fig.add_trace(go.Scatter(
    x=[p[0] for p in red_seq], y=[p[1] for p in red_seq], mode="markers", name=legend_label,
    marker=dict(color="#ff0000", size=30, line=dict(width=0)),
    showlegend=False))
for yy in (cut_upper, cut_lower):
    fig.add_trace(go.Scatter(
        x=cut_mag, y=yy, mode="lines",
        line=dict(color="black", width=7, dash="30px,12px"),
        showlegend=False, hoverinfo="skip"))

axis_common = dict(
    ticks="outside", ticklen=53, tickwidth=6, tickcolor="black",
    showline=True, linecolor="black", linewidth=4, mirror=True,
    showgrid=False, zeroline=False,
    tickfont=dict(family=FONT, size=72, color="black"),
)

fig.update_xaxes(
    range=[16, 28], tickvals=x_ticks, ticklabelstandoff=-10,
    minor=dict(dtick=0.5, tick0=16, ticks="outside", ticklen=27, tickwidth=6, tickcolor="black", showgrid=False),
    title=dict(text="F814W", font=dict(family=FONT, size=72, color="black"), standoff=29),
    **axis_common)
fig.update_yaxes(
    range=[0.5, 1.5], tickvals=y_ticks, tickformat=".1f",
    minor=dict(dtick=0.05, tick0=0.5, ticks="outside", ticklen=27, tickwidth=6, tickcolor="black", showgrid=False),
    title=dict(text="F606W-F814W", font=dict(family=FONT, size=72, color="black"), standoff=14),
    **axis_common)

# legend drawn by hand so the symbol keeps the marker size of the plot
box_path = ("M -386,-23.5 L -386,23.5 Q -386,33.5 -376,33.5 L 376,33.5 Q 386,33.5 386,23.5 "
            "L 386,-23.5 Q 386,-33.5 376,-33.5 L -376,-33.5 Q -386,-33.5 -386,-23.5 Z")
fig.add_shape(type="path", path=box_path, xref="paper", yref="paper",
              xsizemode="pixel", ysizemode="pixel", xanchor=0.7914, yanchor=0.9591,
              fillcolor="white", line=dict(color="#cccccc", width=4), layer="above")
fig.add_shape(type="circle", xref="paper", yref="paper",
              xsizemode="pixel", ysizemode="pixel", xanchor=0.6272, yanchor=0.960,
              x0=-15, x1=15, y0=-15, y1=15,
              fillcolor="#ff0000", line=dict(width=0), layer="above")
fig.add_annotation(text=legend_label, xref="paper", yref="paper", x=0.6766, y=0.961,
                   xanchor="left", yanchor="middle", showarrow=False,
                   font=dict(family=FONT, size=55, color="black"))

# the page body keeps its default 8px margin, so the figure is 16px smaller
fig.update_layout(
    width=2377, height=1791,
    margin=dict(l=314, r=78, t=40, b=271),
    paper_bgcolor="white", plot_bgcolor="white",
    font=dict(family=FONT, color="black"),
    showlegend=False,
)

fig.write_html("out.html")
